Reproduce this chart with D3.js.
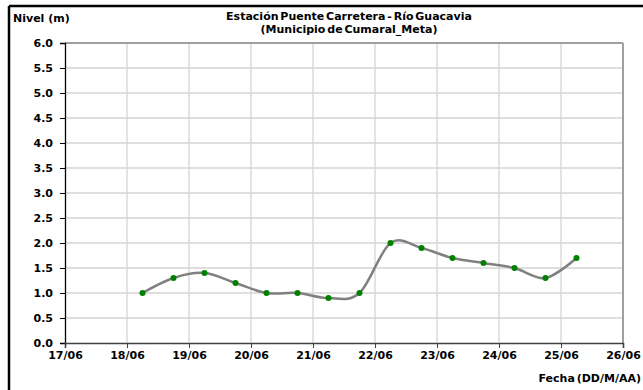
<!DOCTYPE html>
<html>
  <head>
    <meta charset="UTF-8">
    <title>Nivel Rio Guacavia</title>
    <script src="https://d3js.org/d3.v7.min.js"></script>
    <style>
      body { margin: 0; background: #fff; }
      text { font-family: "DejaVu Sans", sans-serif; font-weight: bold; fill: #000; }
      .grid line { stroke: #d4d4d4; stroke-width: 1.3; }
      .tick text { font-size: 11px; font-family: "DejaVu Sans", sans-serif; font-weight: bold; }
    </style>
  </head>
  <body>
    <div id="chart"></div>
<script>
  // days of June (decimal, 0.25 = 06:00, 0.75 = 18:00)
  var fechas = [18.25, 18.75, 19.25, 19.75, 20.25, 20.75, 21.25, 21.75, 22.25, 22.75, 23.25, 23.75, 24.25, 24.75, 25.25];
  var niveles = [1.0, 1.3, 1.4, 1.2, 1.0, 1.0, 0.9, 1.0, 2.0, 1.9, 1.7, 1.6, 1.5, 1.3, 1.7];
  var diasX = [17, 18, 19, 20, 21, 22, 23, 24, 25, 26];
  var nivelesY = [0, 0.5, 1, 1.5, 2, 2.5, 3, 3.5, 4, 4.5, 5, 5.5, 6];

  var W = 643, H = 390;
  var margin = {top: 43, right: 20, bottom: 47, left: 65};
  var width = W - margin.left - margin.right,
      height = H - margin.top - margin.bottom;

  var svg = d3.select("#chart").append("svg")
      .attr("width", W)
      .attr("height", H);

  // outer frame (only top and left visible)
  svg.append("line").attr("x1", 9).attr("x2", W).attr("y1", 6).attr("y2", 6)
     .attr("stroke", "#000").attr("stroke-width", 2.5);
  svg.append("line").attr("x1", 9).attr("x2", 9).attr("y1", 6).attr("y2", H)
     .attr("stroke", "#000").attr("stroke-width", 2.5);

  var g = svg.append("g")
      .attr("transform", "translate(" + margin.left + "," + margin.top + ")");

  var x = d3.scaleLinear().domain([17, 26]).range([0, width]);
  var y = d3.scaleLinear().domain([0, 6]).range([height, 0]);

  // grid
  g.append("g").attr("class", "grid")
    .selectAll("line").data(nivelesY.slice(1, -1)).enter().append("line")
      .attr("x1", 0).attr("x2", width)
      .attr("y1", d => y(d)).attr("y2", d => y(d));
  g.append("g").attr("class", "grid")
    .selectAll("line").data(diasX.slice(1, -1)).enter().append("line")
      .attr("y1", 0).attr("y2", height)
      .attr("x1", d => x(d)).attr("x2", d => x(d));

  // plot frame top / right
  g.append("line").attr("x1", 0).attr("x2", width).attr("y1", 0).attr("y2", 0)
    .attr("stroke", "#a0a0a0").attr("stroke-width", 2);
  g.append("line").attr("x1", width).attr("x2", width).attr("y1", 0).attr("y2", height)
    .attr("stroke", "#a0a0a0").attr("stroke-width", 2);

  // axes
  var yAxis = g.append("g")
    .call(d3.axisLeft(y).tickValues(nivelesY).tickFormat(d3.format(".1f")).tickSize(5).tickPadding(7));
  yAxis.select(".domain").attr("stroke", "#000").attr("stroke-width", 1.3);
  yAxis.selectAll(".tick line").attr("stroke", "#000");

  var xAxis = g.append("g")
    .attr("transform", "translate(0," + height + ")")
    .call(d3.axisBottom(x).tickValues(diasX).tickFormat(d => d + "/06").tickSize(5).tickPadding(3));
  xAxis.select(".domain").attr("stroke", "#404040").attr("stroke-width", 1.6);
  xAxis.selectAll(".tick line").attr("stroke", "#404040");

  // line
  var data = fechas.map((f, i) => ({f: f, v: niveles[i]}));
  g.append("path")
    .datum(data)
    .attr("fill", "none")
    .attr("stroke", "#808080")
    .attr("stroke-width", 2.5)
    .attr("d", d3.line()
      .curve(d3.curveCatmullRom.alpha(0))
      .x(d => x(d.f))
      .y(d => y(d.v)));

  g.selectAll(".pt").data(data).enter().append("circle")
    .attr("cx", d => x(d.f))
    .attr("cy", d => y(d.v))
    .attr("r", 3)
    .attr("fill", "#008000");

  // titles
  svg.append("text").attr("x", 349).attr("y", 20).attr("text-anchor", "middle")
    .style("font-size", "11px").style("word-spacing", "-2px")
    .text("Estación Puente Carretera - Río Guacavia");
  svg.append("text").attr("x", 349).attr("y", 33).attr("text-anchor", "middle")
    .style("font-size", "11px").style("word-spacing", "-2px")
    .text("(Municipio de Cumaral_Meta)");
  svg.append("text").attr("x", 13).attr("y", 22)
    .style("font-size", "11px").text("Nivel (m)");
  svg.append("text").attr("x", 641).attr("y", 382).attr("text-anchor", "end")
    .style("font-size", "11px").style("word-spacing", "-2px").text("Fecha (DD/M/AA)");
</script>
  </body>
</html>
